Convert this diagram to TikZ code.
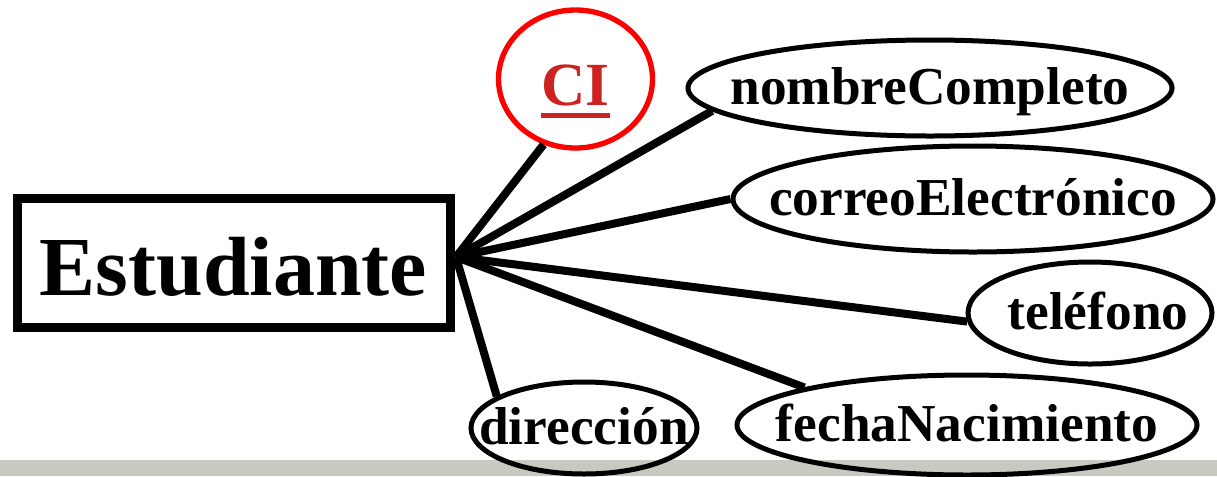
\documentclass[tikz,border=0pt]{standalone}
\usepackage{fontspec}
\setmainfont{Liberation Serif}
\usetikzlibrary{shapes.geometric}

\tikzset{every picture/.style={line width=0.75pt}}

\begin{document}
\begin{tikzpicture}[x=0.75pt,y=0.75pt,yscale=-1,xscale=1,
  entity/.style={draw, line width=6.75pt, inner sep=0pt, minimum width=324.75pt, minimum height=96.75pt, text height=48.8pt, text depth=0pt, font=\fontsize{63}{63}\selectfont\bfseries},
  attrib/.style={draw, ellipse, line width=3.75pt, inner sep=0pt, text height=30pt, text depth=6pt, font=\fontsize{40}{40}\selectfont\bfseries},
  keyattrib/.style={attrib, draw={rgb, 255:red, 255; green, 0; blue, 0 }, text={rgb, 255:red, 204; green, 34; blue, 34 }, line width=4pt, text height=42pt, text depth=3pt, font=\fontsize{46}{46}\selectfont\bfseries},
  link/.style={line width=6pt}]
\useasboundingbox (0,0) rectangle (1217,476);

%Shape: Rectangle [id:band]
\fill [fill={rgb, 255:red, 200; green, 201; blue, 192 }] (0,460) rectangle (1217,476);

%Shape: Rectangle [id:estudiante]
\node [entity] (estudiante) at (233.5,262.5) {Estudiante};
\coordinate (hub) at (456,257);

%Shape: Ellipse [id:ci]
\node [keyattrib, minimum width=115.5pt, minimum height=103.5pt] (ci) at (575.5,79) {\makebox[0pt]{\setbox0\hbox{CI}\rlap{\copy0}\rule[-10pt]{\wd0}{3.75pt}}};
%Shape: Ellipse [id:nombre]
\node [attrib, minimum width=363pt, minimum height=72pt] (nombre) at (930,88) {\makebox[0pt]{nombreCompleto}};
%Shape: Ellipse [id:correo]
\node [attrib, minimum width=360pt, minimum height=79.5pt] (correo) at (973,199) {\makebox[0pt]{correoElectrónico}};
%Shape: Ellipse [id:telefono]
\node [attrib, minimum width=183pt, minimum height=76.5pt] (telefono) at (1090,313) {\makebox[0pt]{\hspace{12pt}teléfono}};
%Shape: Ellipse [id:fecha]
\node [attrib, minimum width=345pt, minimum height=75pt] (fecha) at (967,425) {\makebox[0pt]{fechaNacimiento}};
%Shape: Ellipse [id:direccion]
\node [attrib, minimum width=169.5pt, minimum height=69pt] (direccion) at (584,428) {\makebox[0pt]{dirección}};

%Straight Lines
\draw [link] (hub) -- (ci.244);
\draw [link] (hub) -- (nombre.186);
\draw [link] (hub) -- (correo.west);
\draw [link] (hub) -- (telefono.184);
\draw [link] (hub) -- (fecha.167);
\draw [link] (hub) -- (direccion.160);

\end{tikzpicture}
\end{document}
